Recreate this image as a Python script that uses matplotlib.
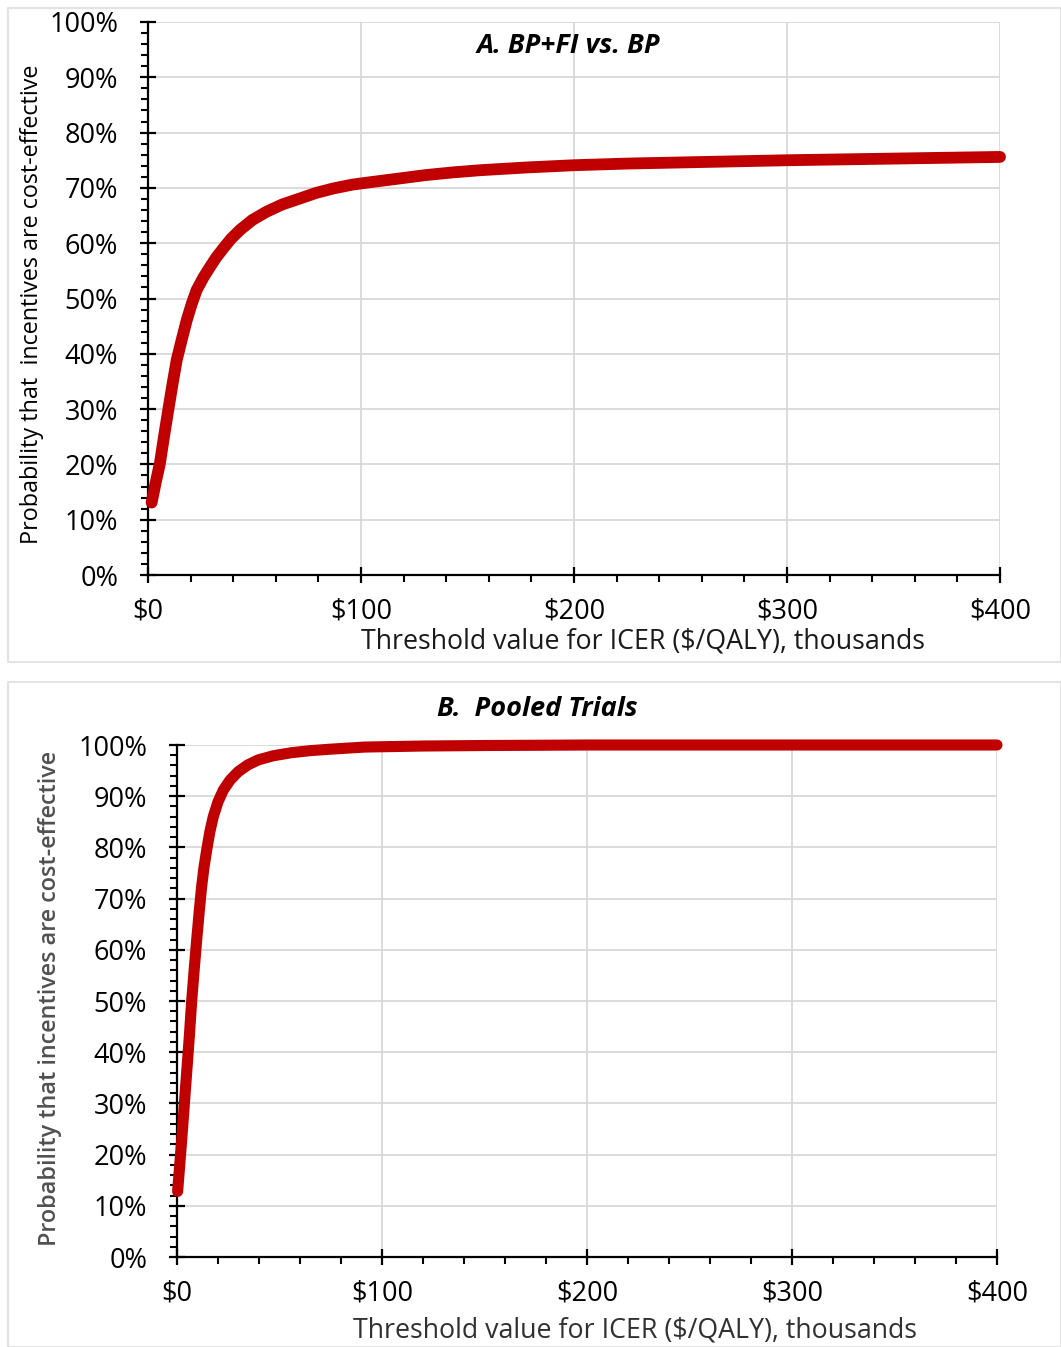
import matplotlib
matplotlib.use("Agg")
import matplotlib.pyplot as plt
from matplotlib.patches import Rectangle
from matplotlib.ticker import MultipleLocator, FuncFormatter

plt.rcParams['font.family'] = ['Open Sans', 'DejaVu Sans']

# Panel A: BP+FI vs. BP
a_x = [1.7, 3.5, 5.6, 7.5, 9.5, 11.5, 13.5, 16, 18.2, 20.5, 22.8, 26, 29.1, 32, 35.4, 39, 43.2, 49, 55.7, 63, 71.4, 79, 87, 96, 105.8, 118, 130, 143, 156, 178, 200, 225, 250, 275, 300, 350, 400]
a_y = [13.1, 16.5, 20.2, 25.0, 29.8, 34.5, 38.9, 42.8, 46.1, 49.0, 51.5, 53.8, 55.7, 57.4, 59.1, 60.8, 62.4, 64.2, 65.7, 67.0, 68.1, 69.1, 69.9, 70.6, 71.1, 71.7, 72.3, 72.8, 73.2, 73.7, 74.1, 74.4, 74.6, 74.8, 75.0, 75.3, 75.6]

# Panel B: Pooled trials
b_x = [0.3, 1.3, 2.3, 3.5, 4.7, 6.0, 7.2, 8.4, 9.6, 10.8, 12, 13.2, 14.5, 16, 17.7, 20, 22.6, 26, 29.9, 34.5, 39.7, 47, 55.9, 65, 75.5, 91.7, 120, 150, 200, 300, 400]
b_y = [12.8, 17.8, 22.9, 29.4, 35.9, 43.0, 50.2, 56.2, 61.9, 67.3, 72.3, 76.2, 79.5, 83.0, 86.0, 88.9, 91.2, 93.2, 94.8, 96.1, 97.1, 97.9, 98.5, 98.9, 99.2, 99.6, 99.8, 99.9, 100, 100, 100]

x_ticks = [0, 100, 200, 300, 400]
x_ticklabels = ['$0', '$100', '$200', '$300', '$400']
y_ticks = list(range(0, 101, 10))

title_a = 'A. BP+FI vs. BP'
title_b = 'B.  Pooled Trials'
ylabel_a = 'Probability that  incentives are cost-effective'
ylabel_b = 'Probability that incentives are cost-effective'
xlabel = 'Threshold value for ICER ($/QALY), thousands'

W, H = 1061, 1347
fig = plt.figure(figsize=(W / 100, H / 100), dpi=100)

def frac(x0, y0, x1, y1):
    return [x0 / W, 1 - y1 / H, (x1 - x0) / W, (y1 - y0) / H]

def ftext(x, y, s, **kw):
    fig.text(x / W, 1 - y / H, s, **kw)

# panel border boxes
for (x0, y0, x1, y1) in [(8, 8, 1061, 662), (8, 682, 1061, 1347)]:
    fig.add_artist(Rectangle((x0 / W, 1 - y1 / H), (x1 - x0) / W, (y1 - y0) / H,
                             transform=fig.transFigure, fill=False,
                             edgecolor='#e3e3e3', linewidth=1.5))

RED = '#c00000'

def style(ax):
    ax.set_xlim(0, 400)
    ax.set_ylim(0, 100)
    ax.set_xticks(x_ticks)
    ax.set_xticklabels(x_ticklabels)
    ax.set_yticks(y_ticks)
    ax.yaxis.set_major_formatter(FuncFormatter(lambda v, p: f'{int(v)}%'))
    ax.xaxis.set_minor_locator(MultipleLocator(20))
    ax.yaxis.set_minor_locator(MultipleLocator(2))
    ax.grid(True, which='major', color='#d9d9d9', linewidth=1.3)
    ax.set_axisbelow(True)
    for s in ['top', 'right']:
        ax.spines[s].set_visible(False)
    for s in ['left', 'bottom']:
        ax.spines[s].set_linewidth(1.6)
        ax.spines[s].set_color('black')
    ax.tick_params(which='major', direction='inout', length=11, width=1.6,
                   labelsize=19.5, colors='black')
    ax.tick_params(which='minor', direction='out', length=5, width=1.5, colors='black')
    ax.tick_params(axis='x', which='major', pad=11)
    ax.tick_params(axis='y', which='major', pad=16)

# Panel A
axA = fig.add_axes(frac(148, 22, 1000, 575))
axA.plot(a_x, a_y, color=RED, linewidth=8.5, solid_capstyle='round',
         solid_joinstyle='round', zorder=3, clip_on=False)
style(axA)
ftext(568, 46, title_a, fontsize=19.5, fontweight='bold', fontstyle='italic',
      ha='center', va='center', color='black')
ftext(32, 304, ylabel_a, fontsize=16.8, rotation=90, ha='center', va='center', color='black')
ftext(643, 641, xlabel, fontsize=19.3, ha='center', va='center', color='#1a1a1a')

# Panel B
axB = fig.add_axes(frac(177, 745, 997, 1257))
axB.plot(b_x, b_y, color=RED, linewidth=8, solid_capstyle='round',
         solid_joinstyle='round', zorder=3, clip_on=False)
style(axB)
ftext(537, 709, title_b, fontsize=19.5, fontweight='bold', fontstyle='italic',
      ha='center', va='center', color='black')
ftext(50, 998, ylabel_b, fontsize=16.8, rotation=90, ha='center', va='center',
      color='#505050', fontweight='semibold')
ftext(635, 1331, xlabel, fontsize=19.3, ha='center', va='center', color='#303030')

fig.savefig('out.png', dpi=100, facecolor='white')
